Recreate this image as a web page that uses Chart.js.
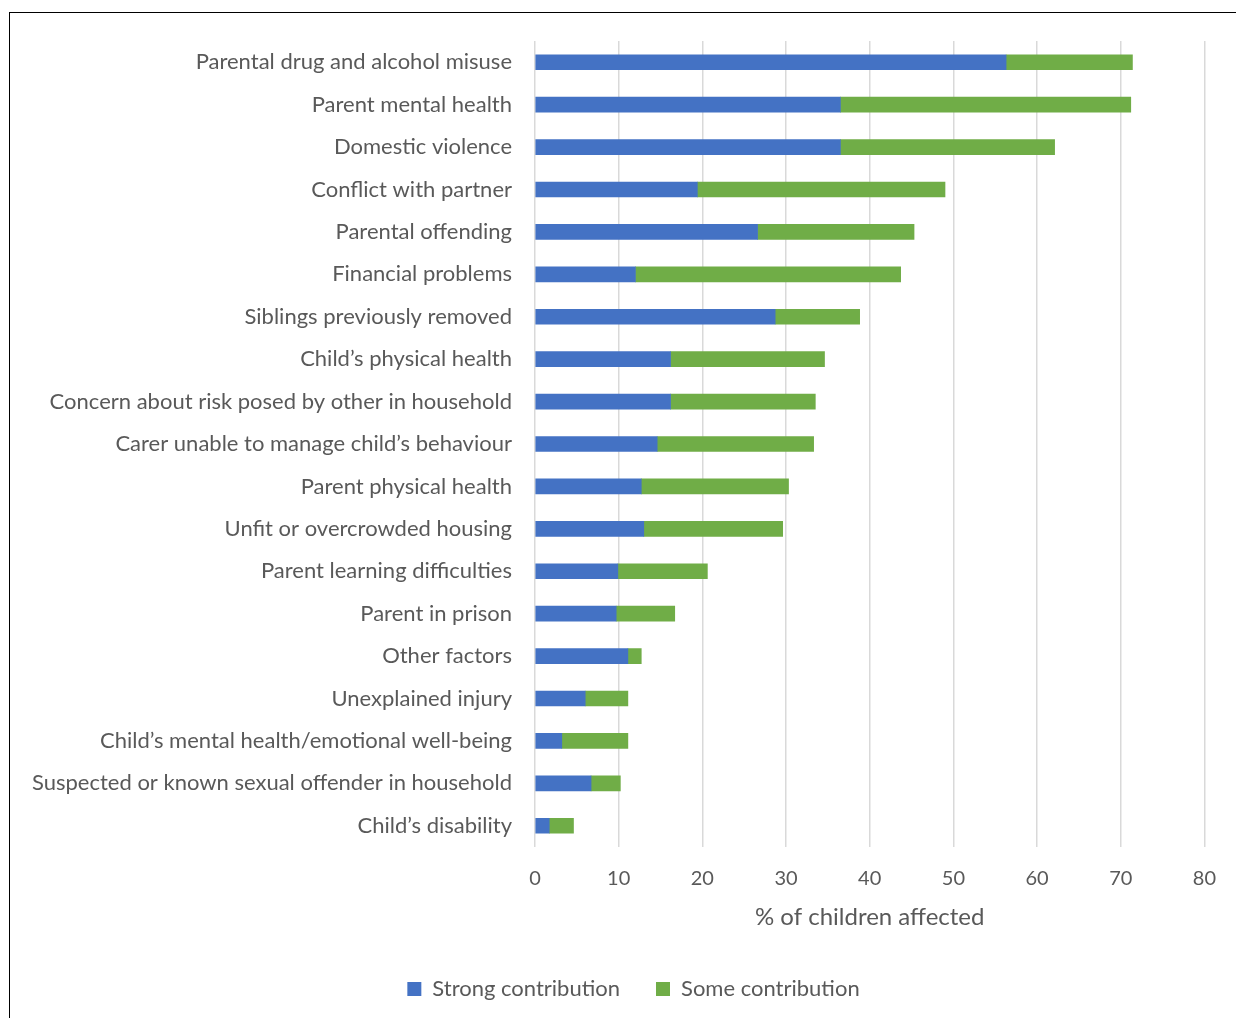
<!DOCTYPE html>
<html>
<head>
<meta charset="utf-8">
<script src="https://cdn.jsdelivr.net/npm/chart.js@4"></script>
<style>
  html, body { margin: 0; padding: 0; background: #fff; }
  #wrap { position: relative; width: 1236px; height: 1018px; }
  #frame { position: absolute; left: 9px; top: 12px; width: 1240px; height: 1020px; border-left: 1px solid #000; border-top: 1px solid #000; box-sizing: border-box; pointer-events: none; }
  canvas { position: absolute; left: 0; top: 0; }
</style>
</head>
<body>
<div id="wrap">
  <canvas id="c" width="1236" height="1018"></canvas>
  <div id="frame"></div>
</div>
<script>
const categories = [
  "Parental drug and alcohol misuse",
  "Parent mental health",
  "Domestic violence",
  "Conflict with partner",
  "Parental offending",
  "Financial problems",
  "Siblings previously removed",
  "Child\u2019s physical health",
  "Concern about risk posed by other in household",
  "Carer unable to manage child\u2019s behaviour",
  "Parent physical health",
  "Unfit or overcrowded housing",
  "Parent learning difficulties",
  "Parent in prison",
  "Other factors",
  "Unexplained injury",
  "Child\u2019s mental health/emotional well-being",
  "Suspected or known sexual offender in household",
  "Child\u2019s disability"
];
const strongContribution = [56.3, 36.5, 36.5, 19.4, 26.6, 12.0, 28.7, 16.2, 16.2, 14.6, 12.7, 13.0, 9.9, 9.7, 11.1, 6.0, 3.2, 6.7, 1.7];
const someContribution   = [15.1, 34.7, 25.6, 29.6, 18.7, 31.7, 10.1, 18.4, 17.3, 18.7, 17.6, 16.6, 10.7, 7.0, 1.6, 5.1, 7.9, 3.5, 2.9];
const xTicks = [0, 10, 20, 30, 40, 50, 60, 70, 80];
const xTitle = "% of children affected";

const FONT = "Lato, 'Liberation Sans', sans-serif";
const TXT = "#595959";

const legendShift = {
  id: 'legendShift',
  afterLayout(chart) {
    const lg = chart.legend;
    if (lg) { lg.left += 30; lg.right += 30; }
  }
};

new Chart(document.getElementById('c'), {
  type: 'bar',
  data: {
    labels: categories,
    datasets: [
      { label: 'Strong contribution', data: strongContribution, backgroundColor: '#4472C4', barThickness: 15 },
      { label: 'Some contribution', data: someContribution, backgroundColor: '#70AD47', barThickness: 15 }
    ]
  },
  plugins: [legendShift],
  options: {
    indexAxis: 'y',
    responsive: false,
    animation: false,
    layout: { padding: { top: 41, right: 29, bottom: 8, left: 0 } },
    plugins: {
      legend: {
        position: 'bottom',
        labels: {
          boxWidth: 14, boxHeight: 14, color: TXT, padding: 36,
          font: { family: FONT, size: 22 }
        }
      },
      tooltip: { enabled: false }
    },
    scales: {
      x: {
        stacked: true,
        min: 0, max: 80,
        afterBuildTicks: (s) => { s.ticks = xTicks.map(v => ({ value: v })); },
        grid: { color: '#d9d9d9', lineWidth: 1.5, drawTicks: false },
        border: { display: false },
        ticks: { color: TXT, font: { family: FONT, size: 20 }, padding: 20 },
        title: { display: true, text: xTitle, color: TXT, font: { family: FONT, size: 24 }, padding: { top: 8, bottom: 10 } },
        afterFit: (s) => { s.height = 95; }
      },
      y: {
        stacked: true,
        grid: { display: false, drawTicks: false },
        border: { display: false },
        ticks: { color: TXT, font: { family: FONT, size: 22 }, padding: 23, autoSkip: false },
        afterFit: (s) => { s.width = 535; }
      }
    }
  }
});
</script>
</body>
</html>
